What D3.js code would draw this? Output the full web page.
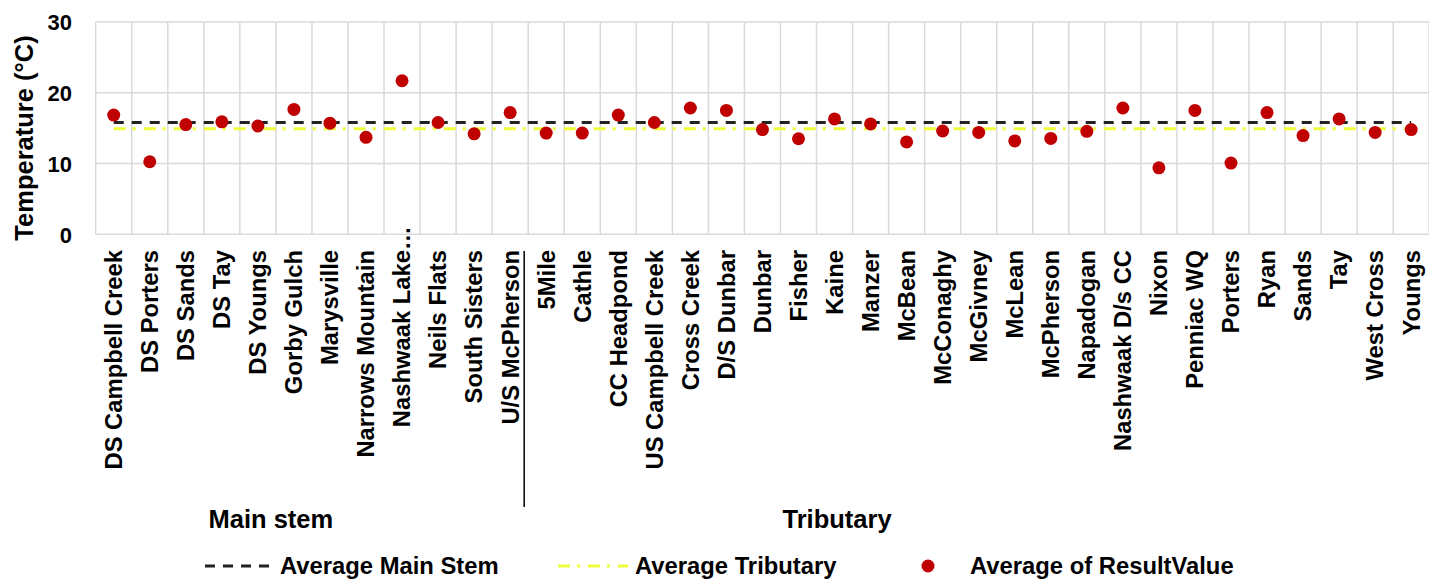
<!DOCTYPE html>
<html>
<head>
<meta charset="utf-8">
<script src="https://cdn.jsdelivr.net/npm/d3@7"></script>
<style>
  html, body { margin: 0; padding: 0; background: #ffffff; }
  svg { display: block; }
  text { font-family: "Liberation Sans", Arial, sans-serif; font-weight: bold; fill: #000; }
</style>
</head>
<body>
<svg id="chart" width="1429" height="580"></svg>
<script>
// Sampling sites, grouped by river section
const mainStemSites = [
  "DS Campbell Creek", "DS Porters", "DS Sands", "DS Tay", "DS Youngs", "Gorby Gulch",
  "Marysville", "Narrows Mountain", "Nashwaak Lake\u2026", "Neils Flats", "South Sisters", "U/S McPherson"
];
const tributarySites = [
  "5Mile", "Cathle", "CC Headpond", "US Campbell Creek", "Cross Creek", "D/S Dunbar", "Dunbar",
  "Fisher", "Kaine", "Manzer", "McBean", "McConaghy", "McGivney", "McLean", "McPherson",
  "Napadogan", "Nashwaak D/s CC", "Nixon", "Penniac WQ", "Porters", "Ryan", "Sands", "Tay",
  "West Cross", "Youngs"
];

// Average of ResultValue (°C) per site
const mainStemValues = [16.85, 10.25, 15.5, 15.9, 15.3, 17.65, 15.7, 13.7, 21.7, 15.8, 14.2, 17.2];
const tributaryValues = [
  14.3, 14.3, 16.85, 15.8, 17.85, 17.5, 14.8, 13.5, 16.3, 15.6, 13.05, 14.6, 14.4,
  13.2, 13.55, 14.55, 17.85, 9.4, 17.5, 10.07, 17.2, 13.95, 16.3, 14.4, 14.8
];

// Reference averages (°C)
const averageMainStem = [15.8];
const averageTributary = [14.9];

const yTicks = [0, 10, 20, 30];
const groupNames = ["Main stem", "Tributary"];
const legendLabels = ["Average Main Stem", "Average Tributary", "Average of ResultValue"];

const categories = mainStemSites.concat(tributarySites);
const values = mainStemValues.concat(tributaryValues);
const points = categories.map((c, i) => ({ site: c, value: values[i] }));

const svg = d3.select("#chart");

const plot = { left: 95.7, right: 1429.2, top: 22, bottom: 234.3 };

const x = d3.scaleBand().domain(categories).range([plot.left, plot.right]).padding(0);
const y = d3.scaleLinear().domain([0, 30]).range([plot.bottom, plot.top]);
const step = x.step();

// Gridlines
const grid = svg.append("g").attr("class", "grid");
grid.selectAll("line.h").data(yTicks).join("line")
  .attr("class", "h")
  .attr("x1", plot.left).attr("x2", plot.right)
  .attr("y1", d => y(d)).attr("y2", d => y(d))
  .attr("stroke", "#d9d9d9").attr("stroke-width", 1.5);

const boundaries = d3.range(categories.length + 1).map(i => plot.left + i * step);
grid.selectAll("line.v").data(boundaries).join("line")
  .attr("class", "v")
  .attr("x1", d => d).attr("x2", d => d)
  .attr("y1", y(30)).attr("y2", y(0))
  .attr("stroke", "#d9d9d9").attr("stroke-width", 1.5);

// Y axis tick labels
const yAxis = d3.axisLeft(y).tickValues(yTicks).tickSize(0).tickPadding(0);
const yG = svg.append("g").attr("transform", "translate(72,0)").call(yAxis);
yG.select(".domain").remove();
yG.selectAll("text")
  .attr("font-size", 22)
  .attr("font-family", "Liberation Sans, Arial, sans-serif")
  .attr("font-weight", "bold")
  .attr("fill", "#000")
  .attr("x", 0)
  .attr("dy", "0.35em");

// Y axis title
svg.append("text")
  .attr("transform", "translate(33,138) rotate(-90)")
  .attr("text-anchor", "middle")
  .attr("font-size", 25.5)
  .text("Temperature (°C)");

// Category labels (rotated)
const labelTop = 250;
const xLabels = svg.append("g").attr("class", "x-labels");
xLabels.selectAll("text").data(categories).join("text")
  .attr("font-size", 23.8)
  .attr("text-anchor", "end")
  .attr("dy", "0.35em")
  .text(d => d)
  .each(function (d) {
    // a trailing ellipsis overflows past the common label edge
    let shift = 0;
    if (d.endsWith("\u2026")) {
      const tmp = svg.append("text").attr("font-size", 23.8).text("\u2026");
      shift = tmp.node().getComputedTextLength();
      tmp.remove();
    }
    const cx = x(d) + x.bandwidth() / 2;
    d3.select(this).attr("transform", `translate(${cx},${labelTop - shift}) rotate(-90)`);
  });

// Divider between the two groups
const divX = x(tributarySites[0]) - 4;
svg.append("line")
  .attr("x1", divX).attr("x2", divX)
  .attr("y1", 251).attr("y2", 507)
  .attr("stroke", "#000").attr("stroke-width", 1.5);

// Group labels
const groupPos = [4.86, 20.57];
svg.selectAll("text.group").data(groupNames).join("text")
  .attr("class", "group")
  .attr("x", (d, i) => plot.left + groupPos[i] * step)
  .attr("y", 528)
  .attr("text-anchor", "middle")
  .attr("font-size", 25.5)
  .text(d => d);

// Average lines
const firstC = x(categories[0]) + x.bandwidth() / 2;
const lastC = x(categories[categories.length - 1]) + x.bandwidth() / 2;

svg.selectAll("line.avg-main").data(averageMainStem).join("line")
  .attr("class", "avg-main")
  .attr("x1", firstC).attr("x2", lastC)
  .attr("y1", d => y(d)).attr("y2", d => y(d))
  .attr("stroke", "#222").attr("stroke-width", 3)
  .attr("stroke-dasharray", "10,8");

svg.selectAll("line.avg-trib").data(averageTributary).join("line")
  .attr("class", "avg-trib")
  .attr("x1", firstC).attr("x2", lastC)
  .attr("y1", d => y(d)).attr("y2", d => y(d))
  .attr("stroke", "#eefc3c").attr("stroke-width", 3)
  .attr("stroke-dasharray", "12,7,3,8");

// Site averages
svg.append("g").selectAll("circle").data(points).join("circle")
  .attr("cx", d => x(d.site) + x.bandwidth() / 2)
  .attr("cy", d => y(d.value))
  .attr("r", 6.5)
  .attr("fill", "#c00000");

// Legend
const legY = 566;
const leg = svg.append("g").attr("class", "legend");
leg.append("line")
  .attr("x1", 205).attr("x2", 269).attr("y1", legY).attr("y2", legY)
  .attr("stroke", "#222").attr("stroke-width", 3).attr("stroke-dasharray", "10,8");
leg.append("line")
  .attr("x1", 558).attr("x2", 628).attr("y1", legY).attr("y2", legY)
  .attr("stroke", "#eefc3c").attr("stroke-width", 3).attr("stroke-dasharray", "12,7,3,8");
leg.append("circle")
  .attr("cx", 928).attr("cy", legY).attr("r", 6.5).attr("fill", "#c00000");
const legX = [280, 635, 970];
leg.selectAll("text").data(legendLabels).join("text")
  .attr("x", (d, i) => legX[i])
  .attr("y", legY)
  .attr("dy", "0.35em")
  .attr("font-size", 23.8)
  .text(d => d);
</script>
</body>
</html>
